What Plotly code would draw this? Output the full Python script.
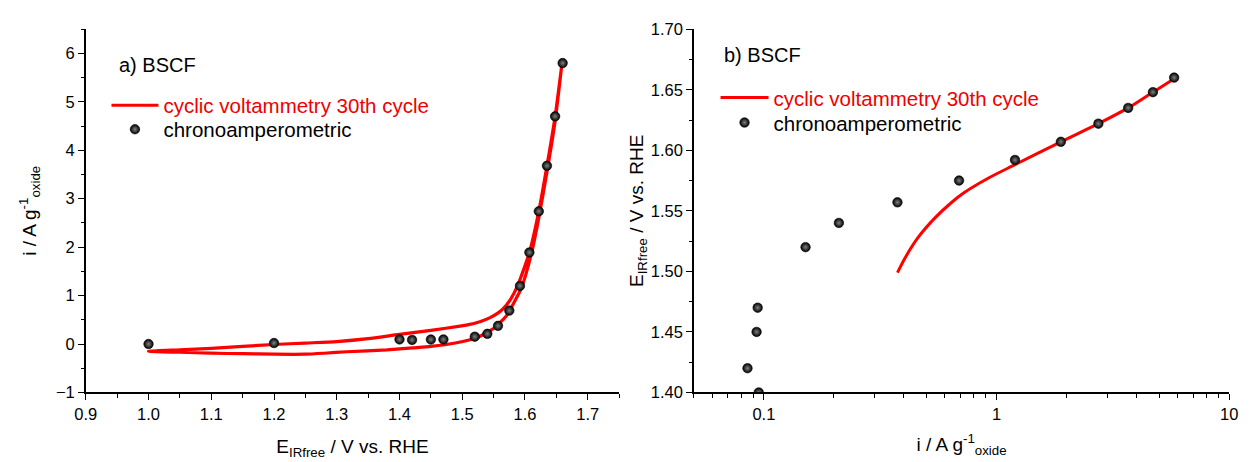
import plotly.graph_objects as go
import numpy as np

# ---- data ----
# cyclic voltammetry, anodic (forward) branch: potential E (V vs RHE), current i (A/g oxide)
cv_fwd_E = [1.00, 1.05, 1.10, 1.15, 1.20, 1.25, 1.30, 1.35, 1.40, 1.45, 1.499, 1.5117, 1.5282,
            1.5444, 1.5573, 1.5649, 1.5767, 1.5881, 1.607, 1.622, 1.635, 1.648, 1.659]
cv_fwd_i = [-0.15, -0.12, -0.09, -0.05, -0.01, 0.02, 0.05, 0.11, 0.20, 0.28, 0.375, 0.406, 0.461,
            0.545, 0.644, 0.724, 0.916, 1.20, 1.89, 2.74, 3.68, 4.70, 5.80]
# cyclic voltammetry, cathodic (reverse) branch
cv_rev_E = [1.659, 1.648, 1.635, 1.622, 1.610, 1.594, 1.583, 1.572, 1.552, 1.525, 1.489, 1.45,
            1.421, 1.38, 1.316, 1.28, 1.25, 1.20, 1.15, 1.10, 1.05, 1.00]
cv_rev_i = [5.80, 4.60, 3.55, 2.60, 1.85, 1.15, 0.87, 0.61, 0.34, 0.14, 0.02, -0.05,
            -0.08, -0.12, -0.16, -0.19, -0.21, -0.21, -0.20, -0.19, -0.17, -0.15]
# chronoamperometric points
ca_E = [1.00, 1.20, 1.40, 1.42, 1.45, 1.47, 1.52, 1.54, 1.557, 1.575, 1.592, 1.607, 1.622, 1.635, 1.648, 1.66]
ca_i = [0.0, 0.02, 0.095, 0.085, 0.093, 0.094, 0.151, 0.21, 0.375, 0.69, 1.20, 1.89, 2.74, 3.68, 4.70, 5.80]

# right panel uses the anodic branch from 1.5 V on
tafel_E = [e for e in cv_fwd_E if e >= 1.499]
tafel_i = [i for e, i in zip(cv_fwd_E, cv_fwd_i) if e >= 1.499]

cv_E_loop = cv_fwd_E + cv_rev_E
cv_i_loop = cv_fwd_i + cv_rev_i

W, H = 1249, 462
FONT = "Arial, Liberation Sans, sans-serif"
RED = "#ff0000"

fig = go.Figure()

sphere = dict(size=9.5, color="black",
              gradient=dict(type="radial", color="#808080"),
              line=dict(width=0.6, color="black"))

cv_name = "<span style='color:#f00000'>cyclic voltammetry 30th cycle</span>"

# left panel
fig.add_trace(go.Scatter(x=cv_E_loop, y=cv_i_loop, mode="lines",
                         line=dict(color=RED, width=3.2, shape="spline", smoothing=0.6),
                         name=cv_name, xaxis="x", yaxis="y", legend="legend", showlegend=True))
fig.add_trace(go.Scatter(x=ca_E, y=ca_i, mode="markers", marker=sphere,
                         name="chronoamperometric", xaxis="x", yaxis="y", legend="legend2",
                         showlegend=True))
# right panel
fig.add_trace(go.Scatter(x=tafel_i, y=tafel_E, mode="lines",
                         line=dict(color=RED, width=3, shape="spline", smoothing=0.8),
                         name=cv_name, xaxis="x2", yaxis="y2", legend="legend3", showlegend=True))
fig.add_trace(go.Scatter(x=ca_i, y=ca_E, mode="markers", marker=sphere,
                         name="chronoamperometric", xaxis="x2", yaxis="y2", legend="legend4",
                         showlegend=True))

axis_common = dict(showline=True, linecolor="black", linewidth=1.5, ticks="outside",
                   ticklen=6, tickwidth=1.3, tickcolor="black", showgrid=False, zeroline=False,
                   mirror=False, tickfont=dict(family=FONT, size=16.5, color="black"))

ydom = [63 / H, 441 / H]
TFONT = dict(family=FONT, size=19, color="black")


def leg(xpx, toppx, iw):
    return dict(x=xpx / W, y=1 - toppx / H, xanchor="left", yanchor="top",
                bgcolor="rgba(0,0,0,0)", borderwidth=0, visible=True,
                font=dict(family=FONT, size=20.5, color="black"), itemwidth=iw)


fig.update_layout(
    width=W, height=H,
    showlegend=True,
    margin=dict(l=0, r=0, t=0, b=0),
    paper_bgcolor="white", plot_bgcolor="white",
    font=dict(family=FONT, size=16, color="black"),
    xaxis=dict(domain=[76 / W, 618 / W], range=[0.9, 1.75], dtick=0.1, tick0=0.9,
               tickformat=".1f",
               minor=dict(dtick=0.05, tick0=0.9, ticks="outside", ticklen=3.5, tickcolor="black"),
               title=dict(text="E<sub>IRfree</sub> / V vs. RHE", font=TFONT, standoff=18),
               anchor="y", **axis_common),
    yaxis=dict(domain=ydom, range=[-1, 6.5], dtick=1, tick0=0,
               minor=dict(dtick=0.5, tick0=0, ticks="outside", ticklen=3.5, tickcolor="black"),
               title=dict(text="i / A g<sup>-1</sup><sub>oxide</sub>", font=TFONT, standoff=14),
               anchor="x", **axis_common),
    xaxis2=dict(domain=[694 / W, 1238 / W], type="log", range=[np.log10(0.05), 1],
                tickvals=[0.1, 1, 10], ticktext=["0.1", "1", "10"],
                minor=dict(tickmode="array",
                           tickvals=[0.05, 0.06, 0.07, 0.08, 0.09, 0.2, 0.3, 0.4, 0.5, 0.6, 0.7,
                                     0.8, 0.9, 2, 3, 4, 5, 6, 7, 8, 9],
                           ticks="outside", ticklen=3.5, tickcolor="black"),
                title=dict(text="i / A g<sup>-1</sup><sub>oxide</sub>", font=TFONT, standoff=16),
                anchor="y2", **axis_common),
    yaxis2=dict(domain=ydom, range=[1.40, 1.70], dtick=0.05, tick0=1.40, tickformat=".2f",
                minor=dict(dtick=0.025, tick0=1.40, ticks="outside", ticklen=3.5, tickcolor="black"),
                title=dict(text="E<sub>IRfree</sub> / V vs. RHE", font=TFONT, standoff=2),
                anchor="x2", **axis_common),
    legend=leg(97, 79.5, 47),
    legend2=leg(97, 104.5, 47),
    legend3=leg(716, 71.5, 48),
    legend4=leg(716, 97.5, 48),
    annotations=[
        dict(text="a) BSCF", x=108 / W, y=1 - 58 / H, xref="paper", yref="paper",
             xanchor="left", yanchor="middle", showarrow=False,
             font=dict(family=FONT, size=20, color="black")),
        dict(text="b) BSCF", x=723 / W, y=1 - 48 / H, xref="paper", yref="paper",
             xanchor="left", yanchor="middle", showarrow=False,
             font=dict(family=FONT, size=20, color="black")),
    ],
)

fig.write_html("out.html")
